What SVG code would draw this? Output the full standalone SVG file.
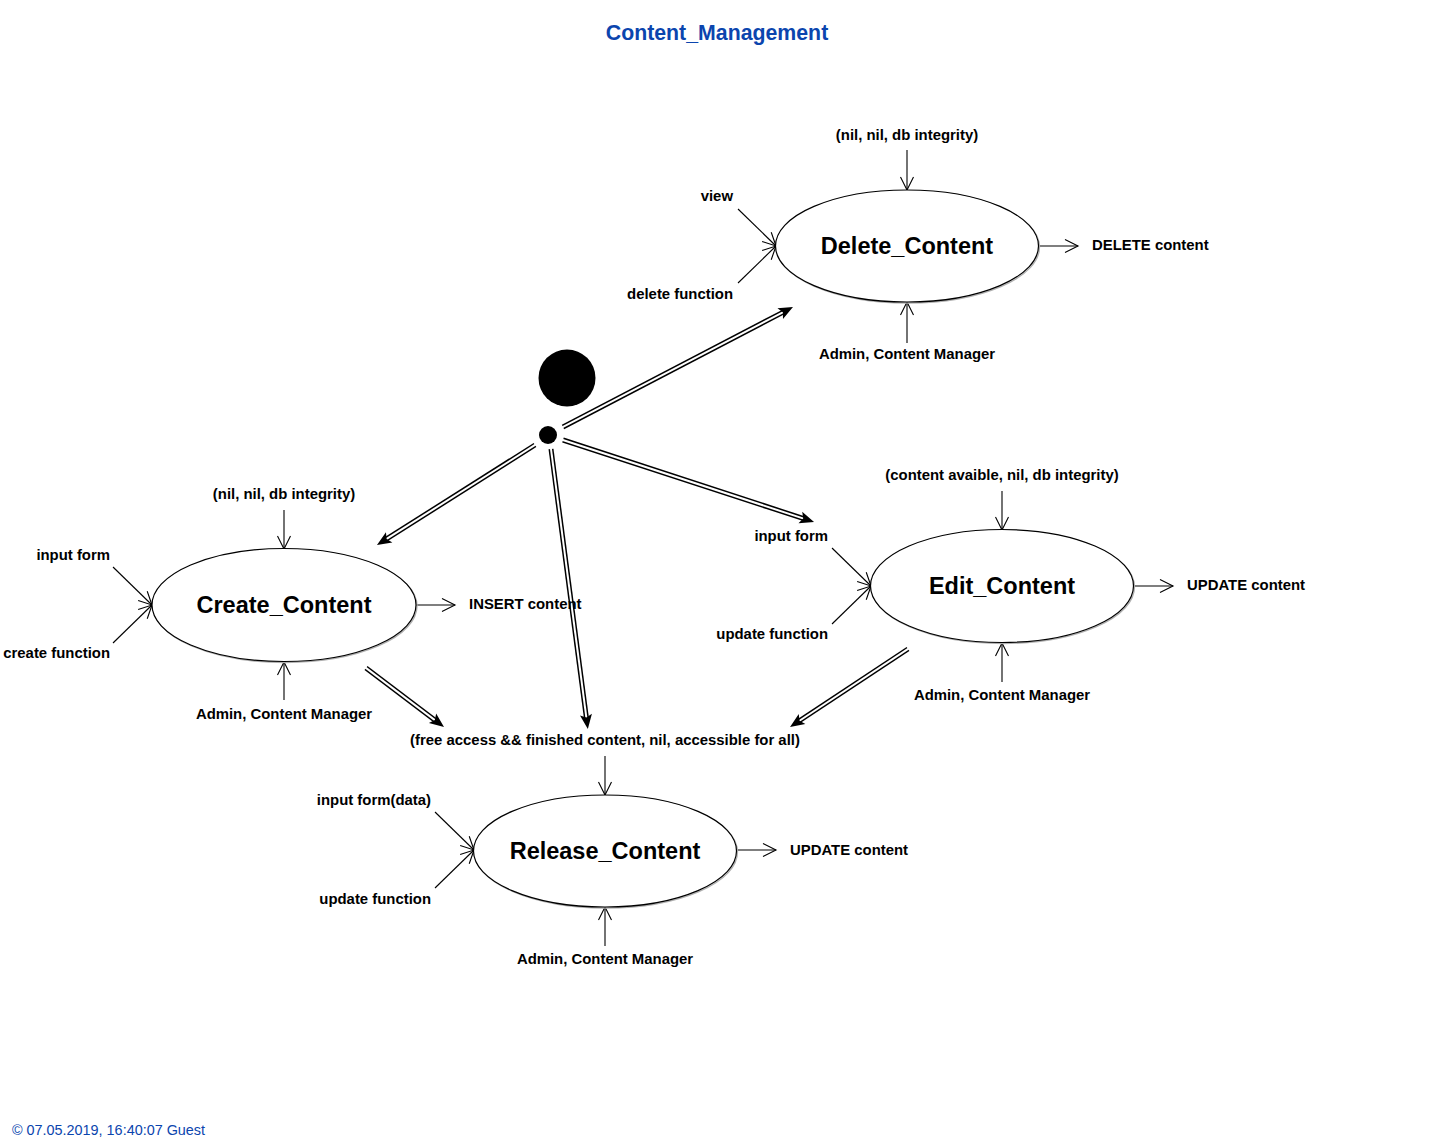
<svg xmlns="http://www.w3.org/2000/svg" width="1433" height="1141" viewBox="0 0 1433 1141">
<style>
text{font-family:"Liberation Sans",Arial,sans-serif;fill:#000}
.lbl{font-size:14.9px;font-weight:bold}
.lbl.e{text-anchor:end}
.lbl.m{text-anchor:middle}
.nm{font-size:23.5px;font-weight:bold;text-anchor:middle}
.ell{fill:#fff;stroke:#000;stroke-width:1.2}
.shd{fill:none;stroke:#b0b0b0;stroke-width:1.3}
.thin{stroke:#000;stroke-width:1.1;fill:none;marker-end:url(#open)}
.dbl{stroke:#000;stroke-width:5;fill:none}
.dbw{stroke:#fff;stroke-width:2;fill:none}
</style>
<defs>
<marker id="open" markerUnits="userSpaceOnUse" viewBox="-15 -8 17 16" refX="0" refY="0" markerWidth="17" markerHeight="16" orient="auto">
<path d="M-13,-6.5 L0,0 L-13,6.5" fill="none" stroke="#000" stroke-width="1.1"/>
</marker>
</defs>
<rect width="1433" height="1141" fill="#fff"/>
<text x="717" y="40" style="font-size:21.3px;font-weight:bold;text-anchor:middle;fill:#0B45AE">Content_Management</text>
<text x="12" y="1135" style="font-size:14.4px;fill:#0B45AE">© 07.05.2019, 16:40:07 Guest</text>

<g id="initial">
<circle cx="567" cy="378" r="28.5" fill="#000"/>
<circle cx="548" cy="435" r="9" fill="#000"/>
</g>

<g id="connectors">
<g transform="translate(563,427) rotate(-27.55)">
<line x1="0" y1="0" x2="250" y2="0" class="dbl"/><line x1="-1" y1="0" x2="249" y2="0" class="dbw"/>
<polygon points="259.4,0 245,-6 248,0 245,6" fill="#000"/>
</g>
<g transform="translate(535,445) rotate(147.67)">
<line x1="0" y1="0" x2="178" y2="0" class="dbl"/><line x1="-1" y1="0" x2="177" y2="0" class="dbw"/>
<polygon points="187,0 172.6,-6 175.6,0 172.6,6" fill="#000"/>
</g>
<g transform="translate(563,440) rotate(18.09)">
<line x1="0" y1="0" x2="255" y2="0" class="dbl"/><line x1="-1" y1="0" x2="254" y2="0" class="dbw"/>
<polygon points="264.1,0 249.7,-6 252.7,0 249.7,6" fill="#000"/>
</g>
<g transform="translate(551,449) rotate(82.5)">
<line x1="0" y1="0" x2="273" y2="0" class="dbl"/><line x1="-1" y1="0" x2="272" y2="0" class="dbw"/>
<polygon points="282.3,0 267.9,-6 270.9,0 267.9,6" fill="#000"/>
</g>
<g transform="translate(366,668) rotate(37.1)">
<line x1="0" y1="0" x2="89" y2="0" class="dbl"/><line x1="-1" y1="0" x2="88" y2="0" class="dbw"/>
<polygon points="97.8,0 83.4,-6 86.4,0 83.4,6" fill="#000"/>
</g>
<g transform="translate(908,649) rotate(146.54)">
<line x1="0" y1="0" x2="132" y2="0" class="dbl"/><line x1="-1" y1="0" x2="131" y2="0" class="dbw"/>
<polygon points="141.4,0 127,-6 130,0 127,6" fill="#000"/>
</g>

<line x1="907" y1="150" x2="907" y2="190" class="thin"/>
<line x1="738" y1="209" x2="776" y2="246" class="thin"/>
<line x1="738" y1="283" x2="776" y2="246" class="thin"/>
<line x1="1039" y1="246" x2="1078" y2="246" class="thin"/>
<line x1="907" y1="343" x2="907" y2="302" class="thin"/>
<line x1="284" y1="510" x2="284" y2="549" class="thin"/>
<line x1="113" y1="567" x2="152" y2="605" class="thin"/>
<line x1="113" y1="643" x2="152" y2="605" class="thin"/>
<line x1="416" y1="605" x2="455" y2="605" class="thin"/>
<line x1="284" y1="700" x2="284" y2="662" class="thin"/>
<line x1="1002" y1="491" x2="1002" y2="530" class="thin"/>
<line x1="832" y1="548" x2="871" y2="586" class="thin"/>
<line x1="832" y1="624" x2="871" y2="586" class="thin"/>
<line x1="1134" y1="586" x2="1173" y2="586" class="thin"/>
<line x1="1002" y1="682" x2="1002" y2="643" class="thin"/>
<line x1="605" y1="756" x2="605" y2="795" class="thin"/>
<line x1="435" y1="812" x2="474" y2="850" class="thin"/>
<line x1="435" y1="888" x2="474" y2="850" class="thin"/>
<line x1="737" y1="850" x2="776" y2="850" class="thin"/>
<line x1="605" y1="946" x2="605" y2="907" class="thin"/>
</g>

<g id="Delete_Content">
<ellipse cx="908" cy="247" rx="131.5" ry="56" class="shd"/>
<ellipse cx="907" cy="246" rx="131.5" ry="56" class="ell"/>
<text x="907" y="254" class="nm">Delete_Content</text>
<text x="907" y="140" class="lbl m">(nil, nil, db integrity)</text>
<text x="733" y="201" class="lbl e">view</text>
<text x="733" y="299" class="lbl e">delete function</text>
<text x="1092" y="250" class="lbl">DELETE content</text>
<text x="907" y="359" class="lbl m">Admin, Content Manager</text>
</g>

<g id="Create_Content">
<ellipse cx="285" cy="606" rx="132" ry="56.5" class="shd"/>
<ellipse cx="284" cy="605" rx="132" ry="56.5" class="ell"/>
<text x="284" y="613" class="nm">Create_Content</text>
<text x="284" y="499" class="lbl m">(nil, nil, db integrity)</text>
<text x="110" y="560" class="lbl e">input form</text>
<text x="110" y="658" class="lbl e">create function</text>
<text x="469" y="609" class="lbl">INSERT content</text>
<text x="284" y="719" class="lbl m">Admin, Content Manager</text>
</g>

<g id="Edit_Content">
<ellipse cx="1003" cy="587" rx="131.5" ry="56.5" class="shd"/>
<ellipse cx="1002" cy="586" rx="131.5" ry="56.5" class="ell"/>
<text x="1002" y="594" class="nm">Edit_Content</text>
<text x="1002" y="480" class="lbl m">(content avaible, nil, db integrity)</text>
<text x="828" y="541" class="lbl e">input form</text>
<text x="828" y="639" class="lbl e">update function</text>
<text x="1187" y="590" class="lbl">UPDATE content</text>
<text x="1002" y="700" class="lbl m">Admin, Content Manager</text>
</g>

<g id="Release_Content">
<ellipse cx="606" cy="852" rx="131.5" ry="56" class="shd"/>
<ellipse cx="605" cy="851" rx="131.5" ry="56" class="ell"/>
<text x="605" y="859" class="nm">Release_Content</text>
<text x="605" y="745" class="lbl m">(free access &amp;&amp; finished content, nil, accessible for all)</text>
<text x="431" y="805" class="lbl e">input form(data)</text>
<text x="431" y="904" class="lbl e">update function</text>
<text x="790" y="855" class="lbl">UPDATE content</text>
<text x="605" y="964" class="lbl m">Admin, Content Manager</text>
</g>
</svg>
